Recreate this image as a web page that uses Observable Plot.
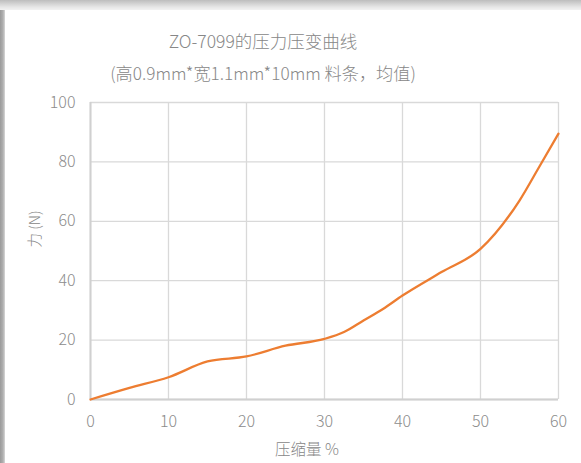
<!DOCTYPE html>
<html>
<head>
<meta charset="utf-8">
<script src="https://cdn.jsdelivr.net/npm/d3@7"></script>
<script src="https://cdn.jsdelivr.net/npm/@observablehq/plot@0.6"></script>
<style>
  html, body { margin: 0; padding: 0; width: 581px; height: 463px; overflow: hidden; background: #fff; }
  #frame { position: absolute; left: 0; top: 0; width: 581px; height: 463px; }
  #topband { position: absolute; left: 0; top: 0; width: 581px; height: 10px;
    background: linear-gradient(to bottom, #bdbdbd, #e6e6e6 70%, #f2f2f2); }
  #leftband { position: absolute; left: 0; top: 10px; width: 5px; height: 453px;
    background: linear-gradient(to right, #9a9a9a, #b0b0b0 60%, #d8d8d8); }
  .txt { position: absolute; font-family: "Noto Sans CJK SC", "Open Sans", sans-serif; font-weight: 300; color: #878787; white-space: nowrap; }
  #title { left: 263px; top: 40px; transform: translate(-50%, -50%); font-size: 17.5px; }
  #subtitle { left: 263px; top: 72px; transform: translate(-50%, -50%); font-size: 17.2px; }
  #ylabel { left: 33px; top: 229px; transform: translate(-50%, -50%) rotate(-90deg); font-size: 14.5px; }
  #xlabel { left: 307px; top: 448px; transform: translate(-50%, -50%); font-size: 15.5px; }
  #chart { position: absolute; left: 0; top: 90px; }
</style>
</head>
<body>
<div id="frame">
  <div id="topband"></div>
  <div id="leftband"></div>
  <div id="chart"></div>
  <div class="txt" id="title">ZO-7099的压力压变曲线</div>
  <div class="txt" id="subtitle">(高0.9mm*宽1.1mm*10mm 料条，均值)</div>
  <div class="txt" id="ylabel">力 (N)</div>
  <div class="txt" id="xlabel">压缩量 %</div>
</div>
<script>
const compression = [0, 5, 10, 15, 20, 25, 30, 32.5, 35, 37.5, 40, 45, 50, 55, 57.5, 60];
const force       = [0, 3.9, 7.5, 12.8, 14.5, 18.1, 20.4, 22.7, 26.6, 30.5, 35, 42.9, 50.7, 67, 78.2, 89.5];
const xTicks = [0, 10, 20, 30, 40, 50, 60];
const yTicks = [0, 20, 40, 60, 80, 100];

const data = compression.map((c, i) => ({c, f: force[i]}));

const chart = Plot.plot({
  width: 581,
  height: 373,
  marginLeft: 90,
  marginRight: 23,
  marginTop: 12,
  marginBottom: 64,
  style: { fontFamily: "'Noto Sans CJK SC', 'Open Sans', sans-serif", fontWeight: 300, fontSize: "16px", color: "#8c8c8c", background: "transparent" },
  x: { domain: [0, 60], ticks: xTicks, tickSize: 0, tickPadding: 16, label: null },
  y: { domain: [0, 100], ticks: yTicks, tickSize: 0, tickPadding: 15, label: null },
  marks: [
    Plot.ruleX(xTicks, { stroke: "#d9d9d9", strokeWidth: 1.3 }),
    Plot.ruleY(yTicks, { stroke: "#d9d9d9", strokeWidth: 1.3 }),
    Plot.ruleX([0], { stroke: "#d0d0d0", strokeWidth: 2 }),
    Plot.ruleY([0], { stroke: "#d0d0d0", strokeWidth: 2 }),
    Plot.line(data, { x: "c", y: "f", stroke: "#ED7D31", strokeWidth: 2.3, curve: "monotone-x" })
  ]
});
document.getElementById("chart").appendChild(chart);
</script>
</body>
</html>
